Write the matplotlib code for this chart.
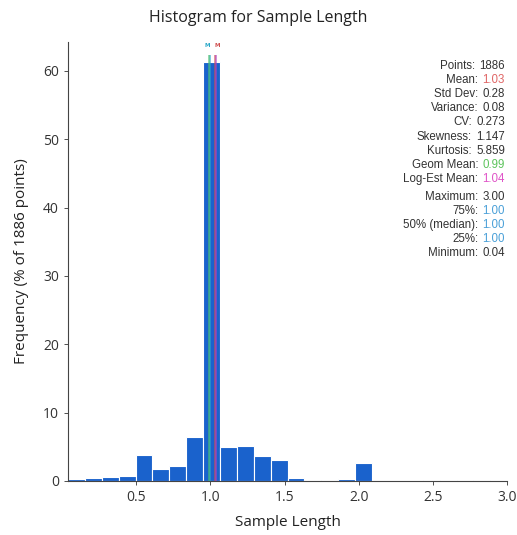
import numpy as np
import matplotlib.pyplot as plt

# histogram data (percent of 1886 points), 26 bins from 0.04 to 3.00
bin_lo = 0.04
bin_hi = 3.00
freq = [0.25, 0.5, 0.65, 0.7, 3.8, 1.7, 2.2, 6.5, 61.3, 5.0, 5.1, 3.7, 3.0,
        0.5, 0.2, 0.2, 0.3, 2.6, 0.0, 0.0, 0.0, 0.2, 0.0, 0.2, 0.0, 0.2]

# summary statistics
stat_labels = ["Points:", "Mean:", "Std Dev:", "Variance:", "CV:", "Skewness:",
               "Kurtosis:", "Geom Mean:", "Log-Est Mean:"]
stat_values = ["1886", "1.03", "0.28", "0.08", "0.273", "1.147", "5.859", "0.99", "1.04"]
stat_colors = ["#333333", "#e06666", "#333333", "#333333", "#333333", "#333333",
               "#333333", "#5cc45c", "#e055c8"]
quant_labels = ["Maximum:", "75%:", "50% (median):", "25%:", "Minimum:"]
quant_values = ["3.00", "1.00", "1.00", "1.00", "0.04"]
quant_colors = ["#333333", "#4aa0d8", "#4aa0d8", "#4aa0d8", "#333333"]

# marker lines: median, geometric mean, mean, log-estimated mean
marker_x = [1.00, 0.99, 1.03, 1.04]
marker_c = ["#2aa8c8", "#4cc070", "#d05050", "#b040c0"]

edges = np.linspace(bin_lo, bin_hi, len(freq) + 1)

fig = plt.figure(figsize=(5.17, 5.35), dpi=100)
ax = fig.add_axes([0.1315, 0.101, 0.8495, 0.82])

ax.bar(edges[:-1], freq, width=np.diff(edges), align='edge', color="#1a62cc",
       edgecolor="white", linewidth=0.8)

for xv, c in zip(marker_x, marker_c):
    ax.vlines(xv, 0, 62.4, color=c, linewidth=1.1, alpha=0.75)
ax.text(1.00, 63.4, "M", color="#2aa8c8", fontsize=4, ha='right', va='bottom',
        fontweight='bold', clip_on=False)
ax.text(1.03, 63.4, "M", color="#d05050", fontsize=4, ha='left', va='bottom',
        fontweight='bold', clip_on=False)

ax.set_xlim(bin_lo, bin_hi)
ax.set_ylim(0, 64.2)
ax.set_xticks([0.5, 1.0, 1.5, 2.0, 2.5, 3.0])
ax.set_yticks([0, 10, 20, 30, 40, 50, 60])
for s in ["top", "right"]:
    ax.spines[s].set_visible(False)
for s in ["left", "bottom"]:
    ax.spines[s].set_color("#444444")
    ax.spines[s].set_linewidth(0.8)
ax.tick_params(labelsize=10, colors="#333333", length=3, width=0.6)
for lbl in ax.get_xticklabels() + ax.get_yticklabels():
    lbl.set_family("Open Sans")

fig.text(0.5, 0.967, "Histogram for Sample Length", ha='center', va='center',
         fontsize=11.5, family="Open Sans", color="#222222")
ax.set_xlabel("Sample Length", fontsize=11, family="Open Sans", color="#222222", labelpad=7)
ax.set_ylabel("Frequency (% of 1886 points)", fontsize=11, family="Open Sans",
              color="#222222", labelpad=10)


def stat_rows(labels, values, colors, y_top):
    x_right = 505 / 517
    step = 14.1
    for i, (lab, val, col) in enumerate(zip(labels, values, colors)):
        y = (535 - y_top - i * step) / 535
        t = fig.text(x_right, y, val, ha='right', va='center', fontsize=8.3,
                     family="Liberation Sans", color=col)
        fig.canvas.draw()
        bb = t.get_window_extent()
        fig.text(bb.x0 / fig.bbox.width - 0.008, y, lab, ha='right', va='center',
                 fontsize=8.3, family="Liberation Sans", color="#333333")


stat_rows(stat_labels, stat_values, stat_colors, 66)
stat_rows(quant_labels, quant_values, quant_colors, 197)

fig.savefig("out.png", dpi=100)
